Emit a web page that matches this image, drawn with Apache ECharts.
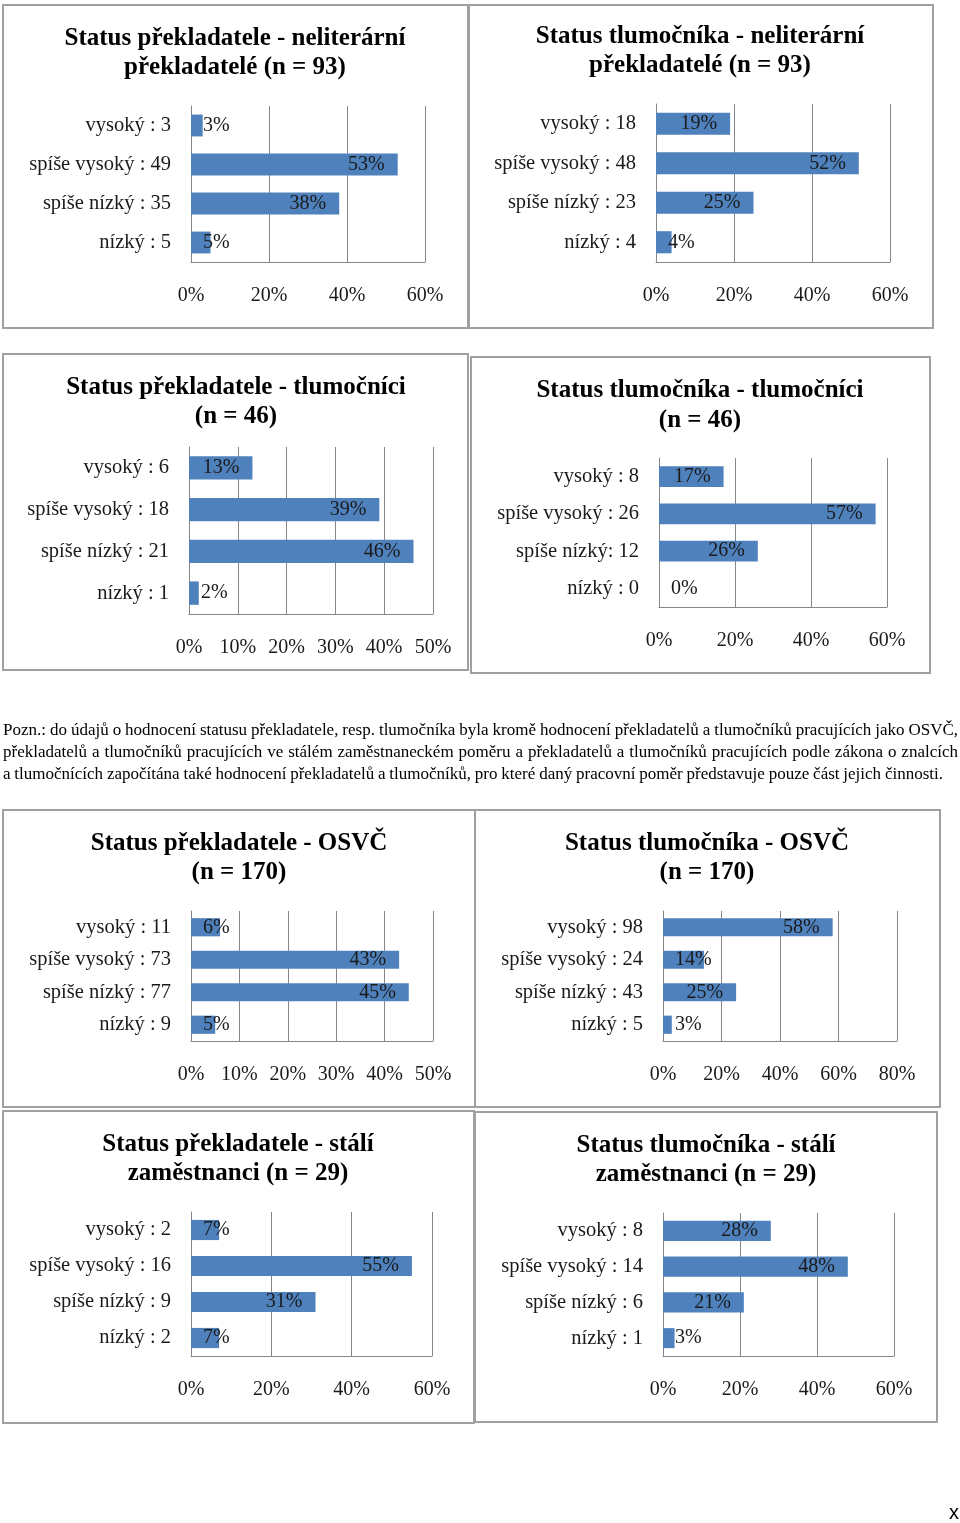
<!DOCTYPE html>
<html><head><meta charset="utf-8">
<script src="https://cdn.jsdelivr.net/npm/echarts@6/dist/echarts.min.js"></script>
<style>html,body{margin:0;padding:0;background:#fff}#c{width:960px;height:1523px}</style>
</head><body><div id="c"></div>
<script>
// ---------- DATA ----------
const title1 = ['Status překladatele - neliterární', 'překladatelé (n = 93)'];
const cats1 = ['vysoký : 3', 'spíše vysoký : 49', 'spíše nízký : 35', 'nízký : 5'];
const vals1 = [3, 53, 38, 5];

const title2 = ['Status tlumočníka - neliterární', 'překladatelé (n = 93)'];
const cats2 = ['vysoký : 18', 'spíše vysoký : 48', 'spíše nízký : 23', 'nízký : 4'];
const vals2 = [19, 52, 25, 4];

const title3 = ['Status překladatele - tlumočníci', '(n = 46)'];
const cats3 = ['vysoký : 6', 'spíše vysoký : 18', 'spíše nízký : 21', 'nízký : 1'];
const vals3 = [13, 39, 46, 2];

const title4 = ['Status tlumočníka - tlumočníci', '(n = 46)'];
const cats4 = ['vysoký : 8', 'spíše vysoký : 26', 'spíše nízký: 12', 'nízký : 0'];
const vals4 = [17, 57, 26, 0];

const title5 = ['Status překladatele - OSVČ', '(n = 170)'];
const cats5 = ['vysoký : 11', 'spíše vysoký : 73', 'spíše nízký : 77', 'nízký : 9'];
const vals5 = [6, 43, 45, 5];

const title6 = ['Status tlumočníka - OSVČ', '(n = 170)'];
const cats6 = ['vysoký : 98', 'spíše vysoký : 24', 'spíše nízký : 43', 'nízký : 5'];
const vals6 = [58, 14, 25, 3];

const title7 = ['Status překladatele - stálí', 'zaměstnanci (n = 29)'];
const cats7 = ['vysoký : 2', 'spíše vysoký : 16', 'spíše nízký : 9', 'nízký : 2'];
const vals7 = [7, 55, 31, 7];

const title8 = ['Status tlumočníka - stálí', 'zaměstnanci (n = 29)'];
const cats8 = ['vysoký : 8', 'spíše vysoký : 14', 'spíše nízký : 6', 'nízký : 1'];
const vals8 = [28, 48, 21, 3];

const axisMax = [60, 60, 50, 60, 50, 80, 60, 60];
const axisInterval = [20, 20, 10, 20, 10, 20, 20, 20];

const noteLines = [
  'Pozn.: do údajů o hodnocení statusu překladatele, resp. tlumočníka byla kromě hodnocení překladatelů a tlumočníků pracujících jako OSVČ,',
  'překladatelů a tlumočníků pracujících ve stálém zaměstnaneckém poměru a překladatelů a tlumočníků pracujících podle zákona o znalcích',
  'a tlumočnících započítána také hodnocení překladatelů a tlumočníků, pro které daný pracovní poměr představuje pouze část jejich činnosti.'
];

// ---------- LAYOUT ----------
const titles = [title1, title2, title3, title4, title5, title6, title7, title8];
const cats = [cats1, cats2, cats3, cats4, cats5, cats6, cats7, cats8];
const vals = [vals1, vals2, vals3, vals4, vals5, vals6, vals7, vals8];
const layout = [
  {box: [3, 5, 465, 323],    grid: [191, 106, 234, 156], tx: 235, ty: [39, 68]},
  {box: [469, 5, 464, 323],  grid: [656, 104, 234, 158], tx: 700, ty: [37, 66]},
  {box: [3, 354, 465, 316],  grid: [189, 447, 244, 167], tx: 236, ty: [388, 417]},
  {box: [471, 357, 459, 316],grid: [659, 458, 228, 149], tx: 700, ty: [391, 421]},
  {box: [3, 810, 472, 297],  grid: [191, 911, 242, 130], tx: 239, ty: [844, 873]},
  {box: [475, 810, 465, 297],grid: [663, 911, 234, 130], tx: 707, ty: [844, 873]},
  {box: [3, 1111, 471, 312], grid: [191, 1212, 241, 144], tx: 238, ty: [1145, 1174]},
  {box: [475, 1112, 462, 310],grid: [663, 1213, 231, 143], tx: 706, ty: [1146, 1175]}
];

const FONT = '"Liberation Serif", "Times New Roman", serif';
const TXT = '#1a1a1a';
const GRID_C = '#868686';
const BAR_C = '#4F81BD';

const ctx = document.createElement('canvas').getContext('2d');
function tw(text, size, weight) {
  ctx.font = (weight ? weight + ' ' : '') + size + 'px ' + FONT;
  return ctx.measureText(text).width;
}

const grids = [], xAxes = [], yAxes = [], series = [], graphics = [];

layout.forEach((L, i) => {
  grids.push({left: L.grid[0], top: L.grid[1], width: L.grid[2], height: L.grid[3], containLabel: false});
  xAxes.push({
    type: 'value', gridIndex: i, min: 0, max: axisMax[i], interval: axisInterval[i],
    axisLine: {show: true, lineStyle: {color: GRID_C, width: 1}},
    axisTick: {show: false},
    splitLine: {show: true, lineStyle: {color: GRID_C, width: 1}},
    axisLabel: {formatter: '{value}%', margin: 24, fontSize: 20, color: TXT, fontFamily: FONT}
  });
  yAxes.push({
    type: 'category', gridIndex: i, data: cats[i], inverse: true,
    axisLine: {show: true, lineStyle: {color: GRID_C, width: 1}},
    axisTick: {show: false},
    splitLine: {show: false},
    axisLabel: {margin: 20, fontSize: 20.5, color: TXT, fontFamily: FONT, padding: [2, 0, 0, 0]}
  });
  series.push({
    type: 'bar', xAxisIndex: i, yAxisIndex: i, data: vals[i].slice(),
    barCategoryGap: '44%', silent: true,
    itemStyle: {color: BAR_C},
    label: {show: true, position: 'insideRight', distance: 13, formatter: '{c}%',
            fontSize: 20, color: TXT, fontFamily: FONT}
  });
  graphics.push({type: 'rect', silent: true, z: -1,
    shape: {x: L.box[0], y: L.box[1], width: L.box[2], height: L.box[3]},
    style: {fill: 'none', stroke: '#a0a0a0', lineWidth: 2}});
  titles[i].forEach((t, k) => {
    graphics.push({type: 'text', silent: true,
      style: {text: t, x: L.tx, y: L.ty[k], font: 'bold 25px ' + FONT, fill: '#000',
              align: 'center', verticalAlign: 'middle', textAlign: 'center', textVerticalAlign: 'middle'}});
  });
});

// note text, justified to the reference line widths
const noteY = [731, 753, 775];
const noteRight = [958, 958, 943];
const NOTE_SIZE = 17;
noteLines.forEach((line, li) => {
  const font = NOTE_SIZE + 'px ' + FONT;
  const words = line.split(' ');
  const ws = words.map(w => tw(w, NOTE_SIZE));
  const total = ws.reduce((a, b) => a + b, 0);
  const gap = (noteRight[li] - 3 - total) / (words.length - 1);
  let x = 3;
  words.forEach((w, k) => {
    graphics.push({type: 'text', silent: true,
      style: {text: w, x: x, y: noteY[li], font: font, fill: '#000',
              align: 'left', verticalAlign: 'middle', textAlign: 'left', textVerticalAlign: 'middle'}});
    x += ws[k] + gap;
  });
});

graphics.push({type: 'text', silent: true,
  style: {text: 'x', x: 954, y: 1513, font: '20px "Liberation Sans", Arial, sans-serif', fill: '#000',
          align: 'center', verticalAlign: 'middle', textAlign: 'center', textVerticalAlign: 'middle'}});

const chart = echarts.init(document.getElementById('c'), null, {renderer: 'canvas'});
chart.setOption({
  animation: false,
  backgroundColor: '#fff',
  grid: grids, xAxis: xAxes, yAxis: yAxes, series: series, graphic: graphics
});

// Decide label placement per bar from the library's own pixel scale
const newSeries = vals.map((arr, i) => ({
  data: arr.map((v, j) => {
    const p0 = chart.convertToPixel({xAxisIndex: i, yAxisIndex: i}, [0, j]);
    const p1 = chart.convertToPixel({xAxisIndex: i, yAxisIndex: i}, [v, j]);
    const len = p1[0] - p0[0];
    const w = tw(v + '%', 20);
    const fits = len >= w + 26;
    return {value: v, label: {position: fits ? 'insideRight' : 'insideLeft', distance: fits ? 13 : 12}};
  })
}));
chart.setOption({series: newSeries});
</script>
</body></html>
